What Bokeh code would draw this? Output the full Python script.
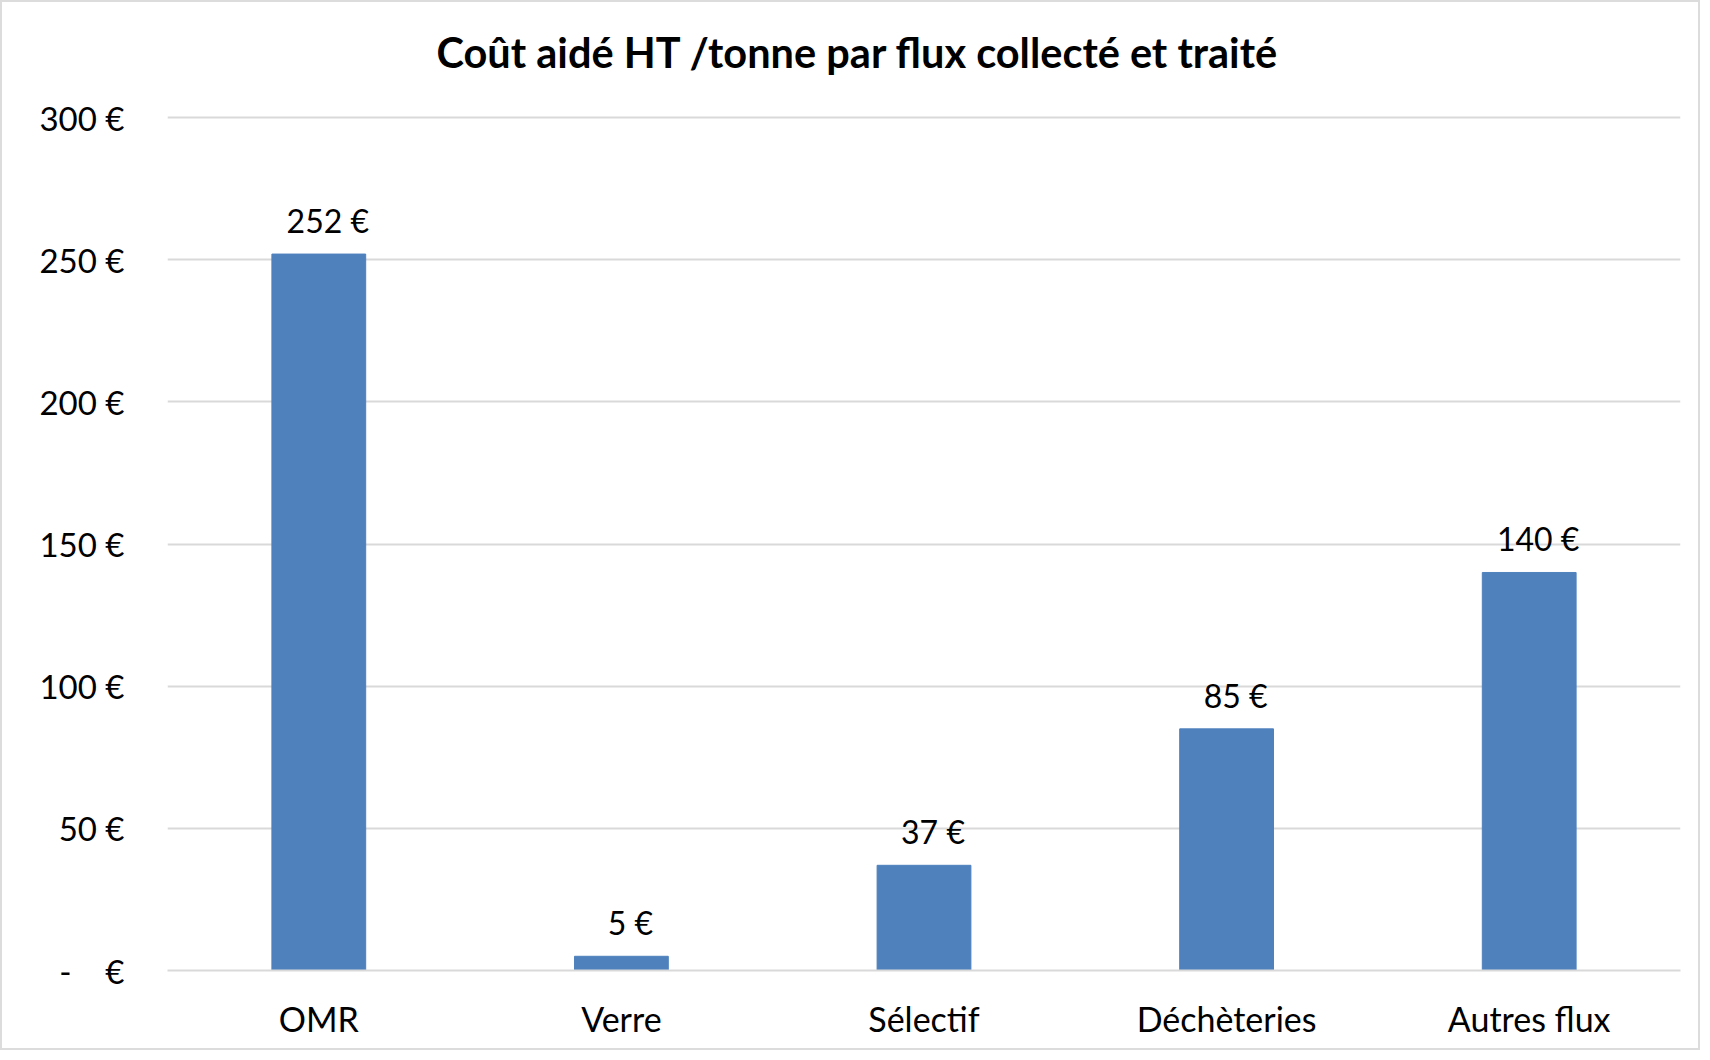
from bokeh.plotting import figure
from bokeh.models import FixedTicker, ColumnDataSource, Title, Range1d
from bokeh.core.properties import value
from bokeh.embed import file_html
from bokeh.resources import INLINE

categories = ["OMR", "Verre", "Sélectif", "Déchèteries", "Autres flux"]
costs = [252, 5, 37, 85, 140]
y_ticks = [0, 50, 100, 150, 200, 250, 300]
y_tick_labels = ["-\u00a0\u00a0\u00a0\u00a0€", "50 €", "100 €", "150 €", "200 €", "250 €", "300 €"]
title_text = "Coût aidé HT /tonne par flux collecté et traité"

FONT = "Lato"
W, H = 1700, 1050
src = ColumnDataSource(dict(cat=categories, val=costs, lab=[f"{v} €" for v in costs]))

p = figure(x_range=categories, y_range=Range1d(0, 312.7), width=W, height=H,
           output_backend="svg", toolbar_location=None, tools="",
           min_border_left=165, min_border_right=22, min_border_top=79, min_border_bottom=82)

p.title = Title(text=title_text, align="left", text_font=FONT, text_font_size="41.5px",
                text_font_style="bold", text_color="#000000", offset=269, standoff=10)

p.vbar(x="cat", top="val", width=0.31, source=src, color="#4f81bd")
p.text(x="cat", y="val", text="lab", source=src, text_align="center", text_baseline="bottom",
       x_offset=9, y_offset=-14, text_font=value(FONT), text_font_size="32px", text_color="#000000")

p.yaxis.ticker = FixedTicker(ticks=y_ticks)
p.yaxis.major_label_overrides = {t: l for t, l in zip(y_ticks, y_tick_labels)}
p.yaxis.axis_line_color = None
p.yaxis.major_tick_line_color = None
p.yaxis.minor_tick_line_color = None
p.yaxis.major_label_standoff = 37
p.yaxis.major_label_text_font = FONT
p.yaxis.major_label_text_font_size = "33px"
p.yaxis.major_label_text_color = "#000000"

p.xaxis.axis_line_color = "#d9d9d9"
p.xaxis.axis_line_width = 2
p.xaxis.major_tick_line_color = None
p.xaxis.minor_tick_line_color = None
p.xaxis.major_label_standoff = 21
p.xaxis.major_label_text_font = FONT
p.xaxis.major_label_text_font_size = "34px"
p.xaxis.major_label_text_color = "#000000"

p.xgrid.grid_line_color = None
p.ygrid.grid_line_color = "#d9d9d9"
p.ygrid.grid_line_width = 2
p.ygrid.ticker = FixedTicker(ticks=y_ticks)
p.outline_line_color = None
p.x_range.range_padding = 0
p.styles = {"border": "2px solid #dcdcdc", "box-sizing": "border-box"}

open("out.html", "w").write(file_html(p, INLINE))
